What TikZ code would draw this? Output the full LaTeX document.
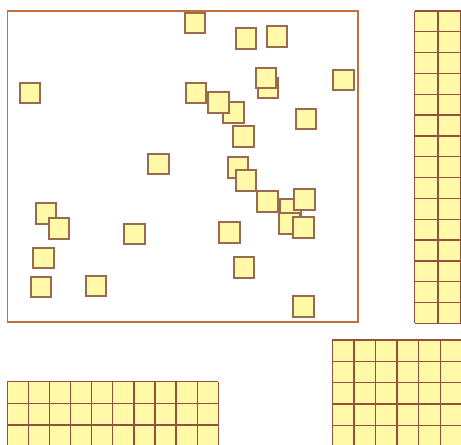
\documentclass[tikz,border=0pt]{standalone}
\usepackage{xcolor}
\usepackage{tikz}
\usetikzlibrary{positioning}
\definecolor{tilefill}{HTML}{FFF9A8}
\definecolor{tileline}{HTML}{9A6A50}
\definecolor{frameline}{HTML}{C0703F}
\definecolor{gridline}{HTML}{94503A}

\begin{document}
\begin{tikzpicture}[x=0.75pt, y=-0.75pt, tile/.style={draw=tileline, fill=tilefill, line width=1.2pt, minimum size=15.4pt, inner sep=0pt}, frame/.style={draw=frameline, line width=0.8pt}, gridstroke/.style={draw=gridline, line width=1pt}]
\useasboundingbox (0,0) rectangle (461,444);
\clip (0,0) rectangle (461,444);
% scattered field
\draw[frame] (7.5,11) rectangle (358,322);
\node[tile] (t1) at (195,23) {};
\node[tile] (t2) at (246,38.5) {};
\node[tile] (t3) at (277,36.5) {};
\node[tile] (t4) at (30,93) {};
\node[tile] (t5) at (196,93) {};
\node[tile] (t7) at (233.5,112.5) {};
\node[tile] (t6) at (218.5,102.5) {};
\node[tile] (t8) at (268,88) {};
\node[tile] (t9) at (266,78) {};
\node[tile] (t10) at (343.5,80) {};
\node[tile] (t11) at (306,119) {};
\node[tile] (t12) at (243.5,136.5) {};
\node[tile] (t13) at (158.5,164) {};
\node[tile] (t14) at (238,167.5) {};
\node[tile] (t15) at (246,180.5) {};
\node[tile] (t16) at (267.5,201.5) {};
\node[tile] (t17) at (290.5,209.5) {};
\node[tile] (t18) at (289.5,223.5) {};
\node[tile] (t19) at (304.5,199.5) {};
\node[tile] (t20) at (303.5,227.5) {};
\node[tile] (t21) at (229.5,232.5) {};
\node[tile] (t22) at (244,267.5) {};
\node[tile] (t23) at (303.5,306.5) {};
\node[tile] (t24) at (46,213.5) {};
\node[tile] (t25) at (59,228.5) {};
\node[tile] (t26) at (134.5,234) {};
\node[tile] (t27) at (43.5,258) {};
\node[tile] (t28) at (41,287) {};
\node[tile] (t29) at (96,286) {};
% packed grids
\fill[tilefill] (414.7,11) rectangle (461,323.3);
\foreach \i in {0,...,15} \draw[gridstroke] (414.7,11+20.82*\i) -- (461,11+20.82*\i);
\foreach \x in {414.7,438,461} \draw[gridstroke] (\x,11) -- (\x,323.3);
\fill[tilefill] (7.3,381.7) rectangle (218.3,450);
\foreach \i in {0,...,3} \draw[gridstroke] (7.3,381.7+21.7*\i) -- (218.3,381.7+21.7*\i);
\foreach \i in {0,...,10} \draw[gridstroke] (7.3+21.1*\i,381.7) -- (7.3+21.1*\i,450);
\fill[tilefill] (332.3,340) rectangle (470,450);
\foreach \i in {0,...,5} \draw[gridstroke] (332.3,340+21.3*\i) -- (470,340+21.3*\i);
\foreach \i in {0,...,6} \draw[gridstroke] (332.3+21.6*\i,340) -- (332.3+21.6*\i,450);
\end{tikzpicture}
\end{document}
